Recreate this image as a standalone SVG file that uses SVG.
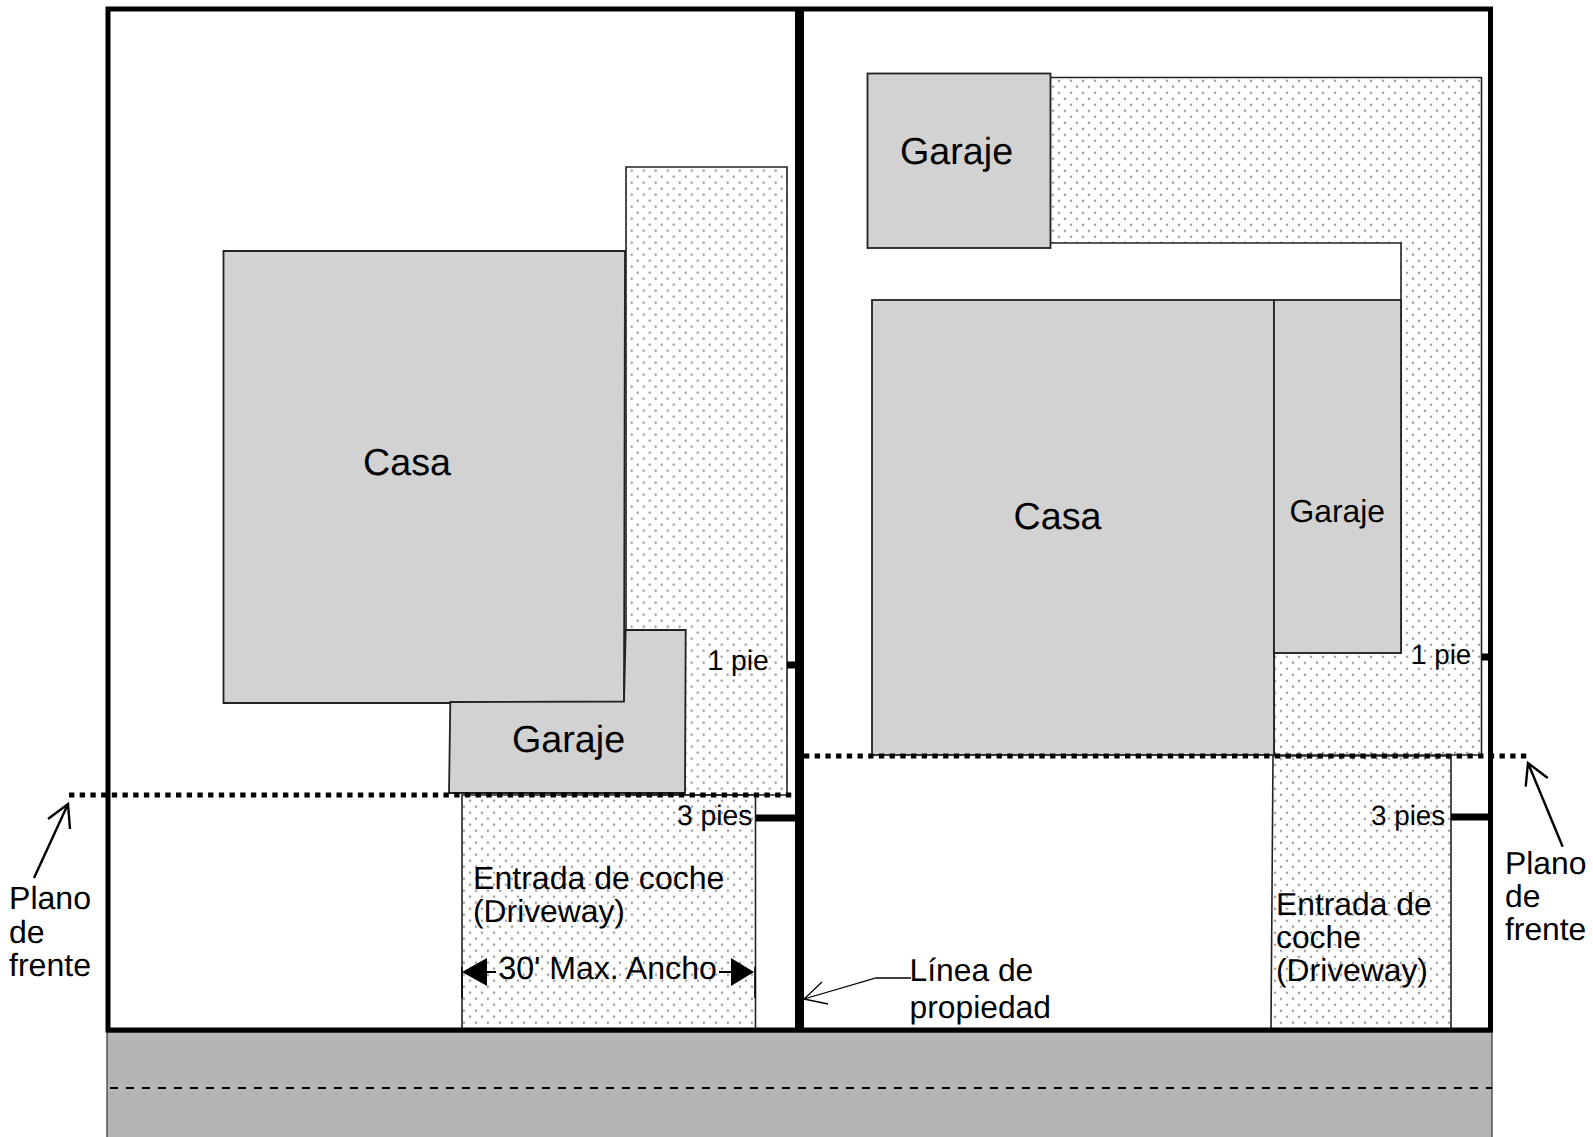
<svg xmlns="http://www.w3.org/2000/svg" width="1593" height="1137" viewBox="0 0 1593 1137">
<defs>
<pattern id="dotsA" width="12" height="12" patternUnits="userSpaceOnUse" x="6.600" y="1.600">
<rect x="0" y="0" width="2.200" height="2.200" fill="#999"/><rect x="6" y="6" width="2.200" height="2.200" fill="#999"/>
</pattern>
<pattern id="dotsB" width="12" height="12" patternUnits="userSpaceOnUse" x="0.900" y="7.600">
<rect x="0" y="0" width="2.200" height="2.200" fill="#999"/><rect x="6" y="6" width="2.200" height="2.200" fill="#999"/>
</pattern>
<pattern id="dotsC" width="12" height="12" patternUnits="userSpaceOnUse" x="1.900" y="7.700">
<rect x="0" y="0" width="2.200" height="2.200" fill="#999"/><rect x="6" y="6" width="2.200" height="2.200" fill="#999"/>
</pattern>
</defs>
<style>
text{font-family:"Liberation Sans",Arial,sans-serif;fill:#000;text-rendering:geometricPrecision}
.t31{font-size:31.8px}.t32{font-size:32.100px}.t37{font-size:37.7px}.t27{font-size:27.800px}.t28{font-size:28.300px}
.b{fill:#d2d2d2;stroke:#222;stroke-width:1.8}
.d{stroke:#222;stroke-width:1.6}
.k{fill:none;stroke:#000}
.dot{fill:none;stroke:#000;stroke-width:5;stroke-dasharray:5.35 5.35}
.thin{fill:none;stroke:#000;stroke-width:2.4}
</style>
<rect width="1593" height="1137" fill="#fff"/>
<g id="road"><rect x="107" y="1032" width="1385" height="110" fill="#b5b5b5" stroke="#333" stroke-width="1.2"/>
<path d="M110 1088H1492" class="k" stroke-width="2" stroke-dasharray="8 8"/></g>
<g id="driveway-left"><path class="d" fill="url(#dotsA)" d="M626 167H787V795H626Z"/><path class="d" fill="url(#dotsB)" d="M462 795H755.500V1029H462Z"/></g>
<g id="driveway-right"><path class="d" fill="url(#dotsC)" d="M1050 77.500H1481.500V755H1274V653H1401V243H1050Z"/><path class="d" fill="url(#dotsC)" d="M1273 756H1451V1029H1271Z"/></g>
<g id="casa-left"><path class="b" d="M223.500 251H625L624 703H223.500Z"/><text class="t37" x="363" y="475">Casa</text></g>
<g id="garaje-left"><path class="b" d="M625.700 630H685.700L685 793H449L450.300 702L624 701.500Z"/><text class="t37" x="512" y="751.500">Garaje</text></g>
<g id="casa-right"><rect class="b" x="872" y="300" width="402" height="455"/><text class="t37" x="1013.500" y="529">Casa</text></g>
<g id="garaje-side"><rect class="b" x="1274" y="300" width="127" height="353"/><text class="t31" x="1289.500" y="522">Garaje</text></g>
<g id="garaje-top"><rect class="b" x="867.500" y="73.500" width="183" height="174.500"/><text class="t37" x="900" y="164">Garaje</text></g>
<g id="property" class="k">
<path d="M108 1030V9H1490.500V1030Z" stroke-width="5"/><path d="M799.500 9V1030" stroke-width="9"/>
</g>
<g id="connectors">
<path class="dot" d="M69 795H795"/><path class="dot" d="M804 756H1531"/>
<path d="M787 665H795M1482 657H1488M756 818H795M1451 817H1488" class="k" stroke-width="7"/>
<path d="M462 967V998M755 967V998" class="k" stroke-width="1.500"/>
<path d="M487 972H496M719 972H731" class="k" stroke-width="2"/>
<path d="M462 972L487 958V986Z M754 972L731 958V986Z" fill="#000"/>
<path class="k" stroke="#333" stroke-width="1.300" d="M911 978H876L804 999M822 982L804 999L828 1004"/>
<path class="thin" d="M34 878L68 804M48 819L68 804L70 829"/>
<path class="thin" d="M1562.700 846.700L1528 763M1525.700 786.700L1528 763L1547.700 778"/>
</g>
<g id="labels">
<text class="t28" x="707.500" y="670">1 pie</text>
<text class="t28" x="677" y="825">3 pies</text>
<text class="t27" x="1411" y="664">1 pie</text>
<text class="t27" x="1371" y="825">3 pies</text>
<text class="t32" x="473" y="889">Entrada de coche</text>
<text class="t31" x="473" y="922">(Driveway)</text>
<text class="t32" x="498.500" y="979">30' Max. Ancho</text>
<text class="t31" x="1276" y="915">Entrada de</text>
<text class="t31" x="1276" y="948">coche</text>
<text class="t31" x="1276" y="981">(Driveway)</text>
<text class="t32" x="9" y="909">Plano</text>
<text class="t32" x="9" y="943">de</text>
<text class="t32" x="9" y="976">frente</text>
<text class="t31" x="1505" y="874">Plano</text>
<text class="t31" x="1505" y="907">de</text>
<text class="t31" x="1505" y="940">frente</text>
<text class="t31" x="909.500" y="981">Línea de</text>
<text class="t31" x="909.500" y="1018">propiedad</text>
</g>
</svg>
